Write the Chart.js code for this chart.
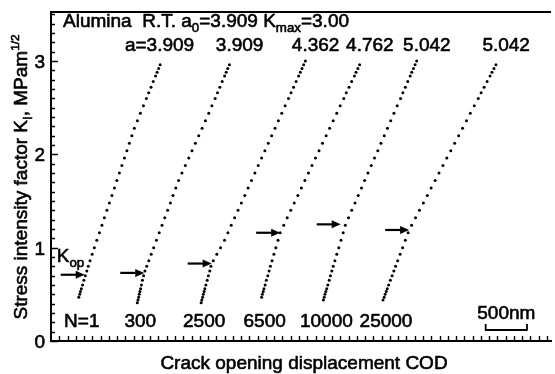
<!DOCTYPE html>
<html>
<head>
<meta charset="utf-8">
<script src="https://cdn.jsdelivr.net/npm/chart.js@4.4.1/dist/chart.umd.min.js"></script>
<style>
  html, body { margin: 0; padding: 0; background: #fff; }
</style>
</head>
<body>
<canvas id="codChart" width="555" height="374"></canvas>
<script>
// stress intensity levels (MPa m^1/2) at which the dots were read
const kLevels = [0.41, 0.44, 0.47, 0.50, 0.53, 0.56, 0.60, 0.65, 0.70, 0.75, 0.80,
  0.86, 0.93, 1.00, 1.08, 1.16, 1.24, 1.32, 1.40, 1.48, 1.56, 1.64, 1.72, 1.80,
  1.88, 1.96, 2.04, 2.12, 2.20, 2.28, 2.36, 2.44, 2.52, 2.60, 2.66, 2.72, 2.78,
  2.84, 2.88, 2.92, 2.96, 3.00];

// COD in nm for each cycle count (null = no dot at that level)
const codN1 = [null, null, 336, 347, 356, 367, 382, 398, 415, 433, 451, 472, 498, 524,
  554, 586, 616, 646, 676, 706, 737, 767, 797, 827, 857, 888, 918, 948, 978, 1008,
  1045, 1081, 1118, 1154, 1182, 1210, 1237, 1265, 1283, 1302, 1320, null];
const codN300 = [1044, 1052, 1060, 1068, 1075, 1084, 1094, 1106, 1120, 1136, 1158, 1183,
  1212, 1242, 1276, 1309, 1343, 1376, 1410, 1444, 1476, 1510, 1543, 1584, 1625, 1666,
  1705, 1746, 1787, 1828, 1868, 1908, 1946, 1985, 2014, 2042, 2071, 2100, 2119, 2138,
  2158, null];
const codN2500 = [1816, 1824, 1834, 1843, 1852, 1861, 1873, 1889, 1904, 1920, 1934, 1963,
  2006, 2051, 2099, 2140, 2180, 2221, 2262, 2303, 2344, 2384, 2425, 2466, 2507, 2548,
  2587, 2628, 2669, 2710, 2750, 2791, 2832, 2873, 2904, 2934, 2965, 2995, 3016, 3036,
  3056, 3077];
const codN6500 = [null, null, 2548, 2557, 2567, 2576, 2590, 2605, 2622, 2638, 2654, 2674,
  2696, 2720, 2746, 2772, 2815, 2857, 2900, 2942, 2986, 3029, 3071, 3114, 3156, 3199,
  3242, 3284, 3328, 3370, 3413, 3456, 3498, 3541, 3572, 3605, 3637, 3670, 3690, 3712,
  3733, null];
const codN10000 = [null, 3295, 3305, 3314, 3324, 3335, 3348, 3365, 3380, 3397, 3414, 3434,
  3457, 3481, 3508, 3534, 3560, 3599, 3637, 3677, 3716, 3756, 3794, 3834, 3874, 3913,
  3953, 3991, 4031, 4070, 4109, 4148, 4188, 4228, 4256, 4286, 4315, 4345, 4364, 4384,
  4404, 4423];
const codN25000 = [null, 4016, 4030, 4042, 4055, 4067, 4084, 4105, 4126, 4147, 4168, 4193,
  4223, 4253, 4286, 4320, 4362, 4409, 4457, 4504, 4552, 4598, 4646, 4693, 4741, 4788,
  4836, 4883, 4931, 4978, 5026, 5072, 5120, 5168, 5203, 5239, 5275, 5311, 5334, 5358,
  5382, null];

const cycleLabels = ["N=1", "300", "2500", "6500", "10000", "25000"];
const crackLabels = ["a=3.909", "3.909", "4.362", "4.762", "5.042", "5.042"];
// crack opening level and where each arrow points
const kopValues = [0.71, 0.73, 0.83, 1.16, 1.25, 1.19];
const kopCod = [408, 1128, 1944, 2772, 3504, 4332];
const yTickLabels = ["0", "1", "2", "3"];
const scaleBarNm = 500;

const FONT = '"Liberation Sans", Arial, sans-serif';
const curves = [codN1, codN300, codN2500, codN6500, codN10000, codN25000];

function fontAt(size) { return size + "px " + FONT; }

function partSize(m, size) {
  if (m === "sub") return size * 0.7;
  if (m === "sup") return size * 0.62;
  return size;
}

function richWidth(ctx, parts, size) {
  let w = 0;
  for (const [t, m] of parts) {
    ctx.font = fontAt(partSize(m, size));
    w += ctx.measureText(t).width;
  }
  return w;
}

// text with sub/superscripts, y is the vertical middle of the capitals
function drawRich(ctx, parts, x, y, size, align) {
  const w = richWidth(ctx, parts, size);
  let cx = align === "center" ? x - w / 2 : align === "right" ? x - w : x;
  const base = y + size * 0.36;
  ctx.textAlign = "left";
  ctx.textBaseline = "alphabetic";
  ctx.lineWidth = 0.6;
  ctx.lineJoin = "round";
  for (const [t, m] of parts) {
    let dy = 0;
    if (m === "sub") dy = size * 0.28;
    if (m === "sup") dy = -size * 0.42;
    ctx.font = fontAt(partSize(m, size));
    ctx.fillText(t, cx, base + dy);
    ctx.strokeText(t, cx, base + dy);
    cx += ctx.measureText(t).width;
  }
}

const decor = {
  id: "decor",
  afterDraw(chart) {
    const { ctx, chartArea: a } = chart;
    const x = chart.scales.x, y = chart.scales.y;
    ctx.save();
    ctx.strokeStyle = "#000";
    ctx.fillStyle = "#000";

    // top frame line
    ctx.lineWidth = 2;
    ctx.beginPath();
    ctx.moveTo(a.left, a.top);
    ctx.lineTo(a.right, a.top);
    ctx.stroke();

    // inward tick marks
    ctx.lineWidth = 1.4;
    ctx.beginPath();
    for (let i = 0; i <= 35; i++) {
      const py = Math.round(y.getPixelForValue(i / 10)) + 0.5;
      const len = i % 10 === 0 ? 7 : 4;
      ctx.moveTo(a.left, py);
      ctx.lineTo(a.left + len, py);
    }
    for (let v = 100; v <= x.max; v += 100) {
      const px = Math.round(x.getPixelForValue(v)) + 0.5;
      ctx.moveTo(px, a.bottom);
      ctx.lineTo(px, a.bottom - 5);
    }
    ctx.stroke();

    // y tick labels
    yTickLabels.forEach((t, i) => {
      drawRich(ctx, [[t, "n"]], a.left - 6, y.getPixelForValue(i), 19, "right");
    });

    // K_op arrows
    kopValues.forEach((k, i) => {
      const tx = x.getPixelForValue(kopCod[i]);
      const ty = y.getPixelForValue(k);
      ctx.lineWidth = 2.2;
      ctx.beginPath();
      ctx.moveTo(tx - 24, ty);
      ctx.lineTo(tx - 6, ty);
      ctx.stroke();
      ctx.beginPath();
      ctx.moveTo(tx, ty);
      ctx.lineTo(tx - 9, ty - 4);
      ctx.lineTo(tx - 9, ty + 4);
      ctx.closePath();
      ctx.fill();
    });
    const k0x = x.getPixelForValue(kopCod[0]) - 28;
    const k0y = y.getPixelForValue(kopValues[0]) - 20;
    drawRich(ctx, [["K", "n"], ["op", "sub"]], k0x, k0y, 19, "left");

    // cycle and crack length labels at the ends of each curve
    chart.data.datasets.forEach((ds, i) => {
      const first = ds.data[0], last = ds.data[ds.data.length - 1];
      const bx = x.getPixelForValue(first.x) + 3;
      drawRich(ctx, [[cycleLabels[i], "n"]], bx, a.bottom - 21, 19, "center");
      const tx = x.getPixelForValue(last.x) + 34;
      drawRich(ctx, [[crackLabels[i], "n"]], tx, a.top + 32, 19, "right");
    });

    // header
    drawRich(ctx, [["Alumina  R.T. a", "n"], ["0", "sub"], ["=3.909 K", "n"],
      ["max", "sub"], ["=3.00", "n"]], a.left + 12, a.top + 8, 19, "left");

    // 500 nm scale bar
    const barW = x.getPixelForValue(scaleBarNm) - x.getPixelForValue(0);
    const barR = a.right - 24, barL = barR - barW, barY = a.bottom - 11;
    ctx.lineWidth = 1.8;
    ctx.beginPath();
    ctx.moveTo(barL, barY - 6);
    ctx.lineTo(barL, barY);
    ctx.lineTo(barR, barY);
    ctx.lineTo(barR, barY - 6);
    ctx.stroke();
    drawRich(ctx, [[scaleBarNm + "nm", "n"]], (barL + barR) / 2, a.bottom - 29, 19, "center");

    // axis titles
    drawRich(ctx, [["Crack opening displacement COD", "n"]],
      (a.left + a.right) / 2 + 3, a.bottom + 21, 19, "center");
    ctx.translate(20, 177);
    ctx.rotate(-Math.PI / 2);
    drawRich(ctx, [["Stress intensity factor K", "n"], ["I", "sub"], [", MPam", "n"],
      ["1/2", "sup"]], 0, 0, 19, "center");
    ctx.restore();
  }
};

const datasets = curves.map((cod, i) => ({
  label: cycleLabels[i],
  data: kLevels.map((k, j) => (cod[j] == null ? null : { x: cod[j], y: k })).filter(Boolean),
  showLine: false,
  pointRadius: 1.5,
  pointBorderWidth: 0,
  pointBackgroundColor: "#000"
}));

new Chart(document.getElementById("codChart"), {
  type: "scatter",
  data: { datasets: datasets },
  options: {
    responsive: false,
    animation: false,
    devicePixelRatio: 1,
    layout: { padding: { top: 12, right: 0, left: 0, bottom: 0 } },
    plugins: { legend: { display: false }, tooltip: { enabled: false } },
    scales: {
      x: {
        type: "linear",
        min: 0,
        max: 6048,
        ticks: { display: false },
        grid: { display: false, drawTicks: false },
        border: { display: true, color: "#000", width: 2 },
        afterFit: (s) => { s.height = 33; }
      },
      y: {
        min: 0,
        max: 3.526,
        ticks: { display: false, stepSize: 1 },
        grid: { display: false, drawTicks: false },
        border: { display: true, color: "#000", width: 2 },
        afterFit: (s) => { s.width = 51; }
      }
    }
  },
  plugins: [decor]
});
</script>
</body>
</html>
